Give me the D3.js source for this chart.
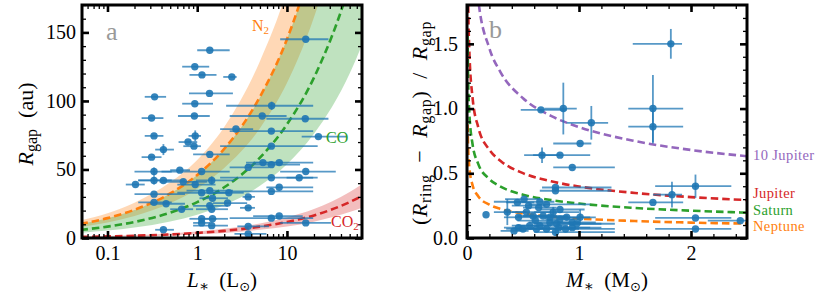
<!DOCTYPE html>
<html>
<head>
  <meta charset="utf-8" />
  <script src="https://cdn.jsdelivr.net/npm/d3@7"></script>
  <style>
  body { margin: 0; background: #fff; }
  text { font-family: "Liberation Serif", "DejaVu Serif", serif; }
  </style>
</head>
<body>
<script>
// ---------- panel a data: [L, L low, L high, Rgap, Rgap err]
var gapPoints = [
  [16.2, 8.4, 29, 145, 0], [1.38, 1.0, 2.3, 137, 0], [0.94, 0.68, 1.36, 125, 0],
  [1.13, 0.82, 1.64, 119, 0], [2.43, 1.95, 2.75, 117.5, 0], [1.37, 0.81, 2.5, 105.5, 0],
  [0.335, 0.26, 0.45, 103, 0], [0.94, 0.68, 1.5, 98, 0], [6.75, 2.1, 19.6, 96.5, 3],
  [0.93, 0.61, 1.38, 89, 0], [0.31, 0.24, 0.42, 87.5, 0], [5.3, 2.3, 9.9, 89, 0],
  [16, 5.9, 29, 87, 0], [2.7, 1.8, 4.2, 79.5, 0], [6.7, 2.3, 19.6, 78, 0],
  [22.4, 14.6, 46.5, 74, 0], [0.95, 0.8, 1.1, 74.5, 4], [0.33, 0.26, 0.42, 74.5, 0],
  [0.79, 0.62, 1.0, 70, 0], [0.92, 0.7, 1.1, 67, 0], [6.7, 1.8, 22, 67, 0],
  [0.42, 0.34, 0.55, 64.5, 4], [1.38, 0.9, 2.3, 61, 0], [0.31, 0.24, 0.4, 59, 0],
  [5.4, 3.5, 9, 55, 0], [8.2, 4.2, 19.6, 55, 0], [3.7, 2.3, 6.3, 51.5, 0],
  [6.7, 3.5, 14, 53.5, 0], [16.2, 8.4, 35, 48.5, 0], [0.33, 0.2, 0.52, 48.5, 3],
  [0.64, 0.5, 0.83, 49.5, 0], [1.12, 0.4, 2.3, 48.5, 0], [13.7, 9.9, 19.6, 44, 0],
  [6.7, 1.8, 22, 44, 0], [0.205, 0.16, 0.26, 39, 0], [0.33, 0.22, 0.52, 42, 3],
  [0.42, 0.22, 0.73, 42, 0], [0.7, 0.38, 1.3, 41, 0], [0.95, 0.6, 1.6, 39, 0],
  [1.45, 0.97, 2.6, 42, 3], [1.38, 0.76, 2.5, 34.5, 0], [2.25, 1.5, 3.3, 33, 0],
  [6.7, 2.3, 19.6, 34, 0], [8.2, 5.9, 19.6, 37, 0], [0.33, 0.2, 0.73, 32, 0],
  [1.12, 0.6, 2.3, 33, 0], [1.48, 1.06, 2.2, 29, 0], [3.7, 3.2, 4.4, 30, 0],
  [0.33, 0.22, 0.52, 26, 0], [0.45, 0.3, 0.73, 25, 0], [2.18, 1.5, 3.6, 25.5, 0],
  [1.38, 0.9, 2.2, 23.5, 0], [1.45, 0.97, 2.2, 21, 0], [0.67, 0.5, 0.9, 21, 0],
  [3.7, 3.0, 4.4, 22, 0], [1.12, 0.82, 1.64, 14, 0], [1.48, 1.06, 2.2, 14, 0],
  [6.7, 2.3, 19.6, 14.5, 0], [8.2, 4.2, 15, 16, 0], [16.2, 8.4, 31, 11, 0],
  [1.12, 0.9, 1.4, 11, 0], [1.45, 0.9, 2.2, 9, 0], [3.7, 2.8, 6.3, 8.5, 0],
  [0.42, 0.34, 0.55, 6, 0], [3.7, 2.6, 5.9, 3, 0]
];

// snowlines: [L, R]
var lumSteps = [0.05, 0.1, 0.2, 0.5, 1, 2, 5, 10, 20, 50, 80];
var n2Line  = [10.3, 14.5, 20.6, 32.5, 46, 65, 103, 145, 206, 325, 411];
var n2Lo    = [8.0, 11.3, 16.1, 25.4, 36, 51, 80, 113, 161, 254, 321];
var n2Hi    = [12.9, 18.1, 25.8, 40.6, 57, 81, 129, 181, 258, 406, 514];
var coLine  = [5.9, 8.3, 11.7, 18.5, 26.2, 37, 58.6, 82.9, 117, 185, 234];
var coLo    = [3.8, 5.4, 7.6, 12.0, 17.0, 24, 38.1, 53.9, 76, 120, 152];
var coHi    = [10.3, 14.5, 20.5, 32.4, 45.9, 65, 102.6, 145, 205, 324, 410];
var co2Line = [0.83, 1.17, 1.65, 2.6, 3.7, 5.2, 8.3, 11.7, 16.5, 26.2, 33.1];
var co2Lo   = [0.6, 0.84, 1.19, 1.87, 2.66, 3.7, 6.0, 8.4, 11.9, 18.9, 23.8];
var co2Hi   = [1.06, 1.5, 2.1, 3.3, 4.7, 6.7, 10.6, 15.0, 21.1, 33.5, 42.4];

// ---------- panel b data: [M, M low, M high, width ratio, ratio err]
var ringPoints = [
  [1.82, 1.48, 1.92, 1.50, 0.115], [1.66, 1.44, 1.93, 1.00, 0.26], [1.66, 1.44, 1.93, 0.86, 0.13],
  [0.86, 0.69, 0.98, 1.00, 0.20], [0.66, 0.48, 0.89, 0.99, 0], [1.11, 0.89, 1.26, 0.89, 0.13],
  [1.01, 0.77, 1.11, 0.73, 0], [0.67, 0.51, 0.83, 0.64, 0.06], [0.83, 0.59, 1.10, 0.64, 0],
  [0.94, 0.77, 1.32, 0.545, 0], [2.04, 1.68, 2.36, 0.40, 0.09], [1.83, 1.66, 1.92, 0.335, 0.10],
  [1.66, 1.44, 1.93, 0.275, 0], [2.04, 1.68, 2.36, 0.155, 0], [2.44, 2.15, 2.5, 0.134, 0],
  [2.04, 1.68, 2.36, 0.07, 0], [0.17, 0.17, 0.17, 0.18, 0], [0.36, 0.24, 0.53, 0.20, 0.10],
  [0.79, 0.67, 1.29, 0.39, 0], [0.79, 0.65, 1.29, 0.365, 0], [0.51, 0.34, 0.65, 0.30, 0],
  [0.65, 0.24, 0.78, 0.28, 0], [0.45, 0.35, 0.6, 0.275, 0], [0.55, 0.4, 0.7, 0.25, 0],
  [0.64, 0.5, 0.8, 0.235, 0], [0.71, 0.55, 1.1, 0.26, 0], [0.53, 0.4, 0.75, 0.20, 0],
  [0.59, 0.45, 0.8, 0.17, 0], [0.46, 0.33, 0.6, 0.16, 0], [0.68, 0.5, 0.9, 0.17, 0],
  [0.77, 0.6, 1.0, 0.20, 0.04], [0.83, 0.65, 1.05, 0.22, 0], [0.89, 0.7, 1.1, 0.16, 0],
  [0.94, 0.75, 1.15, 0.12, 0], [1.01, 0.85, 1.15, 0.16, 0.06], [0.80, 0.6, 1.32, 0.11, 0],
  [0.74, 0.55, 1.0, 0.12, 0], [0.65, 0.45, 0.9, 0.095, 0], [0.56, 0.4, 0.75, 0.095, 0],
  [0.46, 0.33, 0.6, 0.08, 0], [0.42, 0.3, 0.55, 0.055, 0], [0.50, 0.35, 0.7, 0.07, 0],
  [0.62, 0.45, 0.85, 0.07, 0], [0.71, 0.5, 1.0, 0.07, 0], [0.79, 0.6, 1.32, 0.045, 0.03],
  [0.82, 0.65, 1.1, 0.08, 0], [0.88, 0.7, 1.32, 0.07, 0], [0.94, 0.8, 1.2, 0.08, 0],
  [0.98, 0.8, 1.2, 0.11, 0], [0.83, 0.7, 1.0, 0.145, 0], [0.74, 0.6, 0.9, 0.16, 0],
  [0.61, 0.45, 0.8, 0.135, 0]
];

// planet gap curves: [M, ratio]
var massSteps = [0.005, 0.01, 0.02, 0.05, 0.1, 0.2, 0.3, 0.5, 0.75, 1, 1.5, 2, 2.5];
var jup10Line = [5.0, 3.98, 3.16, 2.33, 1.846, 1.465, 1.280, 1.080, 0.943, 0.857, 0.749, 0.680, 0.632];
var jupLine   = [2.33, 1.85, 1.466, 1.080, 0.857, 0.681, 0.595, 0.501, 0.438, 0.398, 0.348, 0.316, 0.293];
var satLine   = [1.56, 1.235, 0.980, 0.722, 0.573, 0.455, 0.397, 0.335, 0.293, 0.266, 0.232, 0.211, 0.196];
var nepLine   = [0.877, 0.696, 0.553, 0.407, 0.323, 0.257, 0.224, 0.189, 0.165, 0.150, 0.131, 0.119, 0.111];

var blue = "#1f77b4", orange = "#ff7f0e", green = "#2ca02c", red = "#d62728", purple = "#9467bd";

var svg = d3.select("body").append("svg").attr("width", 830).attr("height", 295);

function panelFrame(g, x, y, xMaj, xMin, yMaj, yMin, xFmt, yFmt, yPad) {
  var b = y.range()[0], t = y.range()[1], l = x.range()[0], r = x.range()[1];
  function put(axis, tr, vals, size, fmt, pad, w) {
    var a = g.append("g").attr("transform", tr)
      .call(axis.tickValues(vals).tickSize(-size).tickPadding(pad).tickFormat(fmt));
    a.select(".domain").remove();
    a.selectAll("line").attr("stroke", "#000").attr("stroke-width", w);
    a.selectAll("text").attr("font-size", 20).attr("fill", "#000")
      .attr("font-family", "'Liberation Serif', serif");
    return a;
  }
  var none = function() { return ""; };
  put(d3.axisBottom(x), "translate(0," + b + ")", xMin, 4, none, 8, 1.3);
  put(d3.axisTop(x), "translate(0," + t + ")", xMin, 4, none, 8, 1.3);
  put(d3.axisLeft(y), "translate(" + l + ",0)", yMin, 4, none, 8, 1.3);
  put(d3.axisRight(y), "translate(" + r + ",0)", yMin, 4, none, 8, 1.3);
  put(d3.axisBottom(x), "translate(0," + b + ")", xMaj, 7, xFmt, 8, 2.6);
  put(d3.axisTop(x), "translate(0," + t + ")", xMaj, 7, none, 8, 2.6);
  put(d3.axisLeft(y), "translate(" + l + ",0)", yMaj, 7, yFmt, yPad, 2.6);
  put(d3.axisRight(y), "translate(" + r + ",0)", yMaj, 7, none, 8, 2.6);
  g.append("rect").attr("x", l).attr("y", t).attr("width", r - l).attr("height", b - t)
    .attr("fill", "none").attr("stroke", "#000").attr("stroke-width", 3);
}

function errorPoints(g, rows, x, y) {
  var e = g.append("g").attr("stroke", blue).attr("stroke-opacity", 0.75).attr("stroke-width", 1.8);
  rows.forEach(function(d) {
    e.append("line").attr("x1", x(d[1])).attr("x2", x(d[2])).attr("y1", y(d[3])).attr("y2", y(d[3]));
    if (d[4] > 0) e.append("line").attr("x1", x(d[0])).attr("x2", x(d[0]))
      .attr("y1", y(d[3] - d[4])).attr("y2", y(d[3] + d[4]));
  });
  g.append("g").selectAll("circle").data(rows).join("circle")
    .attr("cx", function(d) { return x(d[0]); }).attr("cy", function(d) { return y(d[3]); })
    .attr("r", 3.7).attr("fill", blue).attr("fill-opacity", 0.9);
}

function dashed(g, xs, ys, x, y, col) {
  var line = d3.line().curve(d3.curveMonotoneX)
    .x(function(d, i) { return x(xs[i]); }).y(function(d) { return y(d); });
  g.append("path").attr("d", line(ys)).attr("fill", "none").attr("stroke", col)
    .attr("stroke-width", 2.6).attr("stroke-dasharray", "7.5,4");
}

function band(g, xs, lo, hi, x, y, col) {
  var area = d3.area().curve(d3.curveMonotoneX)
    .x(function(d, i) { return x(xs[i]); })
    .y0(function(d, i) { return y(lo[i]); }).y1(function(d, i) { return y(hi[i]); });
  g.append("path").attr("d", area(lo)).attr("fill", col).attr("fill-opacity", 0.3);
}

// ---------- panel a
var xA = d3.scaleLog().domain([0.052, 68.6]).range([82, 362]);
var yA = d3.scaleLinear().domain([0, 170]).range([238, 5]);
var gA = svg.append("g");
svg.append("clipPath").attr("id", "clipA").append("rect")
  .attr("x", 82).attr("y", 5).attr("width", 280).attr("height", 233);
var pA = gA.append("g").attr("clip-path", "url(#clipA)");
band(pA, lumSteps, n2Lo, n2Hi, xA, yA, orange);
band(pA, lumSteps, coLo, coHi, xA, yA, green);
band(pA, lumSteps, co2Lo, co2Hi, xA, yA, red);
dashed(pA, lumSteps, n2Line, xA, yA, orange);
dashed(pA, lumSteps, coLine, xA, yA, green);
dashed(pA, lumSteps, co2Line, xA, yA, red);
errorPoints(pA, gapPoints, xA, yA);

var minorL = xA.ticks().filter(function(v) { return Math.abs(Math.log10(v) % 1) > 1e-6; });
panelFrame(gA, xA, yA, [0.1, 1, 10], minorL, [0, 50, 100, 150], d3.range(10, 171, 10),
  function(d) { return d < 1 ? "0.1" : String(d); }, d3.format("d"), 6);

gA.append("text").attr("x", 106).attr("y", 40).attr("font-size", 26).attr("fill", "#999").text("a");
var t1 = gA.append("text").attr("x", 252).attr("y", 31).attr("font-size", 16).attr("fill", orange);
t1.append("tspan").text("N");
t1.append("tspan").attr("font-size", 11).attr("dy", 3).text("2");
gA.append("text").attr("x", 326).attr("y", 143).attr("font-size", 16).attr("fill", green).text("CO");
var t2 = gA.append("text").attr("x", 331).attr("y", 227).attr("font-size", 16).attr("fill", red);
t2.append("tspan").text("CO");
t2.append("tspan").attr("font-size", 11).attr("dy", 3).text("2");

var yt = gA.append("text").attr("transform", "translate(33,124) rotate(-90)")
  .attr("text-anchor", "middle").attr("font-size", 22);
yt.append("tspan").attr("font-style", "italic").text("R");
yt.append("tspan").attr("font-size", 16).attr("dy", 4).text("gap");
yt.append("tspan").attr("dy", -4).text("\u2002(au)");
var xt = gA.append("text").attr("x", 222).attr("y", 287).attr("text-anchor", "middle").attr("font-size", 21);
xt.append("tspan").attr("font-style", "italic").text("L");
xt.append("tspan").attr("font-size", 15).attr("dy", 4).text("\u2217");
xt.append("tspan").attr("dy", -4).text("\u2002(L");
xt.append("tspan").attr("font-size", 13).attr("dy", 4).attr("font-family", "DejaVu Sans").text("\u2299");
xt.append("tspan").attr("dy", -4).text(")");

// ---------- panel b
var xB = d3.scaleLinear().domain([0, 2.5]).range([467, 747]);
var yB = d3.scaleLinear().domain([0, 1.8]).range([238, 5]);
var gB = svg.append("g");
svg.append("clipPath").attr("id", "clipB").append("rect")
  .attr("x", 467).attr("y", 5).attr("width", 280).attr("height", 233);
var pB = gB.append("g").attr("clip-path", "url(#clipB)");
dashed(pB, massSteps, jup10Line, xB, yB, purple);
dashed(pB, massSteps, jupLine, xB, yB, red);
dashed(pB, massSteps, satLine, xB, yB, green);
dashed(pB, massSteps, nepLine, xB, yB, orange);
errorPoints(pB, ringPoints, xB, yB);

panelFrame(gB, xB, yB, [0, 1, 2], d3.range(0.2, 2.5, 0.2), [0, 0.5, 1, 1.5], d3.range(0.1, 1.8, 0.1),
  d3.format("d"), d3.format(".1f"), 9);

gB.append("text").attr("x", 489).attr("y", 38).attr("font-size", 26).attr("fill", "#999").text("b");
var planetNames = ["10 Jupiter", "Jupiter", "Saturn", "Neptune"];
var planetCols = [purple, red, green, orange];
var planetY = [160, 198, 214.5, 231];
gB.selectAll("text.pl").data(planetNames).join("text").attr("class", "pl")
  .attr("x", 753).attr("y", function(d, i) { return planetY[i]; })
  .attr("font-size", 14.5).attr("letter-spacing", 0.4)
  .attr("fill", function(d, i) { return planetCols[i]; }).text(function(d) { return d; });

var yt2 = gB.append("text").attr("transform", "translate(427,123) rotate(-90)")
  .attr("text-anchor", "middle").attr("font-size", 22).attr("letter-spacing", 0.7);
yt2.append("tspan").text("(");
yt2.append("tspan").attr("font-style", "italic").text("R");
yt2.append("tspan").attr("font-size", 16).attr("dy", 4).text("ring");
yt2.append("tspan").attr("dy", -4).text("\u2002\u2212\u2002");
yt2.append("tspan").attr("font-style", "italic").text("R");
yt2.append("tspan").attr("font-size", 16).attr("dy", 4).text("gap");
yt2.append("tspan").attr("dy", -4).text(")\u2002/\u2002");
yt2.append("tspan").attr("font-style", "italic").text("R");
yt2.append("tspan").attr("font-size", 16).attr("dy", 4).text("gap");
var xt2 = gB.append("text").attr("x", 607).attr("y", 287).attr("text-anchor", "middle").attr("font-size", 21);
xt2.append("tspan").attr("font-style", "italic").text("M");
xt2.append("tspan").attr("font-size", 15).attr("dy", 4).text("\u2217");
xt2.append("tspan").attr("dy", -4).text("\u2002(M");
xt2.append("tspan").attr("font-size", 13).attr("dy", 4).attr("font-family", "DejaVu Sans").text("\u2299");
xt2.append("tspan").attr("dy", -4).text(")");
</script>
</body>
</html>
